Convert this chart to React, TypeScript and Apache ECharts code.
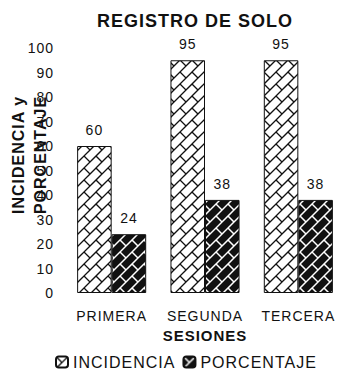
import React, { useEffect, useRef } from "react";
import * as echarts from "echarts";

const categories = ["PRIMERA", "SEGUNDA", "TERCERA"];
const incidencia = [60, 95, 95];
const porcentaje = [24, 38, 38];
const yTicks = { min: 0, max: 100, interval: 10 };

function makeBrick(bg: string, fg: string, lw: number): string {
  const S = 24;
  const c = document.createElement("canvas");
  c.width = S;
  c.height = S;
  const ctx = c.getContext("2d")!;
  ctx.fillStyle = bg;
  ctx.fillRect(0, 0, S, S);
  ctx.strokeStyle = fg;
  ctx.lineWidth = lw;
  ctx.lineCap = "butt";
  const P = (u: number, v: number) => [(u + v) / 2, (u - v) / 2];
  for (let u = -48; u <= 96; u += 12) {
    const a = P(u, -100);
    const b = P(u, 100);
    ctx.beginPath();
    ctx.moveTo(a[0], a[1]);
    ctx.lineTo(b[0], b[1]);
    ctx.stroke();
  }
  for (let u = -48; u <= 96; u += 12) {
    const band = Math.round(u / 12);
    const off = ((band % 2) + 2) % 2 === 0 ? 0 : 12;
    for (let v = -96 + off; v <= 96; v += 24) {
      const a = P(u, v);
      const b = P(u + 12, v);
      ctx.beginPath();
      ctx.moveTo(a[0], a[1]);
      ctx.lineTo(b[0], b[1]);
      ctx.stroke();
    }
  }
  return c.toDataURL();
}

export default function App() {
  const ref = useRef<HTMLDivElement>(null);
  useEffect(() => {
    if (!ref.current) return;
    const chart = echarts.init(ref.current, undefined, { renderer: "svg" });
    const font = "'Liberation Sans', Arial, Helvetica, sans-serif";
    const whitePat = { image: makeBrick("#ffffff", "#111111", 1.3), repeat: "repeat", imageWidth: 24, imageHeight: 24 };
    const blackPat = { image: makeBrick("#111111", "#ffffff", 1.5), repeat: "repeat", imageWidth: 24, imageHeight: 24 };
    chart.setOption({
      animation: false,
      backgroundColor: "#ffffff",
      textStyle: { fontFamily: font, color: "#111" },
      title: {
        text: "REGISTRO DE SOLO",
        left: 97,
        top: 12,
        padding: 0,
        textStyle: { fontSize: 18, fontWeight: "bold", color: "#111", fontFamily: font },
      },
      grid: { left: 65, top: 48, width: 280, height: 245, containLabel: false },
      legend: {
        left: 55,
        top: 354,
        padding: 0,
        itemWidth: 12,
        itemHeight: 11,
        itemGap: 17,
        textStyle: { fontSize: 16, lineHeight: 14, color: "#111", fontFamily: font },
        data: ["INCIDENCIA", "PORCENTAJE"],
      },
      xAxis: {
        type: "category",
        data: categories,
        name: "SESIONES",
        nameLocation: "middle",
        nameGap: 35,
        nameTextStyle: { fontSize: 15, fontWeight: "bold", color: "#111" },
        axisLine: { show: false },
        axisTick: { show: false },
        axisLabel: { fontSize: 14, margin: 16, color: "#111" },
      },
      yAxis: {
        type: "value",
        min: yTicks.min,
        max: yTicks.max,
        interval: yTicks.interval,
        axisLine: { show: false },
        axisTick: { show: false },
        splitLine: { show: false },
        axisLabel: { fontSize: 14, margin: 11, color: "#111" },
      },
      graphic: [
        {
          type: "text",
          x: 29,
          y: 155,
          rotation: Math.PI / 2,
          style: {
            text: "INCIDENCIA y\nPORCENTAJE",
            font: "bold 16px " + font,
            fill: "#111",
            align: "center",
            verticalAlign: "middle",
            lineHeight: 22,
          },
        },
      ],
      series: [
        {
          name: "INCIDENCIA",
          type: "bar",
          data: incidencia,
          barGap: "0%",
          barCategoryGap: "26%",
          itemStyle: { color: whitePat, borderColor: "#111", borderWidth: 1 },
          label: { show: true, position: "top", distance: 9, fontSize: 14, color: "#111" },
        },
        {
          name: "PORCENTAJE",
          type: "bar",
          data: porcentaje,
          barGap: "0%",
          barCategoryGap: "26%",
          itemStyle: { color: blackPat, borderColor: "#111", borderWidth: 1 },
          label: { show: true, position: "top", distance: 9, fontSize: 14, color: "#111" },
        },
      ],
    });
    return () => chart.dispose();
  }, []);
  return (
    <div
      ref={ref}
      style={{ position: "fixed", left: 0, top: 0, width: 350, height: 370, letterSpacing: "1px" }}
    />
  );
}
